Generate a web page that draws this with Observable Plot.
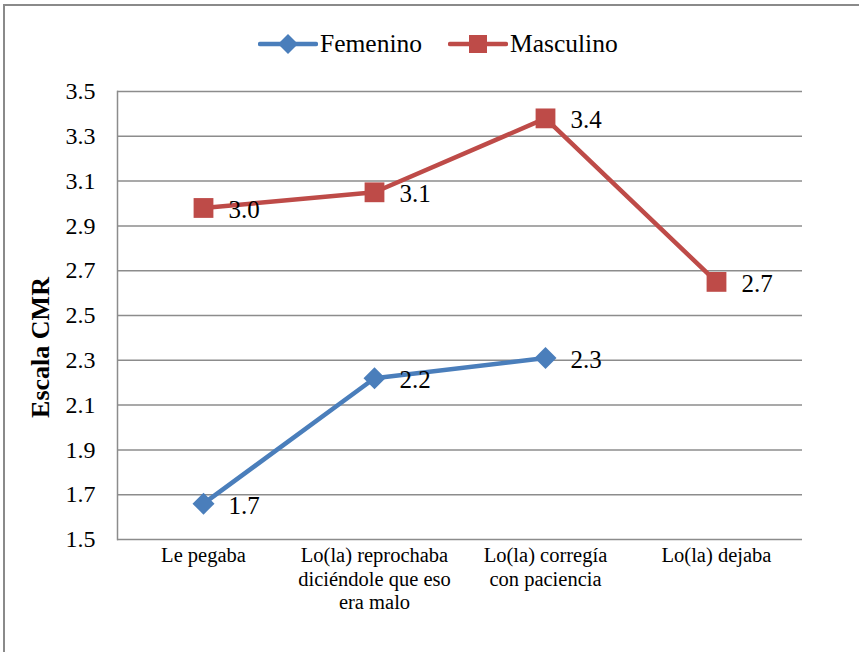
<!DOCTYPE html>
<html><head><meta charset="utf-8">
<script src="https://cdn.jsdelivr.net/npm/d3@7"></script>
<script src="https://cdn.jsdelivr.net/npm/@observablehq/plot@0.6"></script>
<style>
body{margin:0;background:#fff;overflow:hidden}
#wrap{position:relative;width:859px;height:652px;overflow:hidden;font-family:"Liberation Serif","Times New Roman","DejaVu Serif",serif;color:#000}
#border{position:absolute;left:3px;top:4px;width:900px;height:700px;border:2px solid #8a8a8a;pointer-events:none}
#legend{position:relative;height:70px}
.item{position:absolute;top:31px;height:26px;display:flex;align-items:center;font-size:25.5px}
.item svg{display:block;margin-right:2px}
</style></head>
<body>
<div id="wrap">
  <div id="border"></div>
  <div id="legend"></div>
  <div id="chart"></div>
</div>
<script>
const categories = ["Le pegaba", "Lo(la) reprochaba\ndiciéndole que eso\nera malo", "Lo(la) corregía\ncon paciencia", "Lo(la) dejaba"];
const series = ["Femenino", "Masculino"];
const femenino = [1.66, 2.22, 2.31, null];
const masculino = [2.98, 3.05, 3.38, 2.65];
const femeninoLabels = ["1.7", "2.2", "2.3", null];
const masculinoLabels = ["3.0", "3.1", "3.4", "2.7"];
const yTicks = [1.5, 1.7, 1.9, 2.1, 2.3, 2.5, 2.7, 2.9, 3.1, 3.3, 3.5];
const colors = ["#4A7EBB", "#BE4B48"];

const data = [];
categories.forEach((c, i) => {
  data.push({cat: c, serie: "Femenino", v: femenino[i], label: femeninoLabels[i]});
});
categories.forEach((c, i) => {
  data.push({cat: c, serie: "Masculino", v: masculino[i], label: masculinoLabels[i]});
});
const pts = data.filter(d => d.v != null);

const diamond = {draw(ctx, size) { const r = Math.sqrt(size / Math.PI); ctx.moveTo(0, -r); ctx.lineTo(r, 0); ctx.lineTo(0, r); ctx.lineTo(-r, 0); ctx.closePath(); }};
const square = {draw(ctx, size) { const r = Math.sqrt(size / Math.PI) * 0.9; ctx.rect(-r, -r, 2 * r, 2 * r); }};

// legend
const legend = document.getElementById("legend");
const legendPos = [258, 448];
series.forEach((s, i) => {
  const el = document.createElement("div");
  el.className = "item";
  el.style.left = legendPos[i] + "px";
  const shape = i === 0
    ? `<path d="M30,2 L40,12 L30,22 L20,12 Z" fill="${colors[i]}"/>`
    : `<rect x="21" y="3" width="18" height="18" fill="${colors[i]}"/>`;
  el.innerHTML = `<svg width="60" height="24"><line x1="2" x2="58" y1="12" y2="12" stroke="${colors[i]}" stroke-width="4.5" stroke-linecap="round"/>${shape}</svg><span>${s}</span>`;
  legend.appendChild(el);
});

const chart = Plot.plot({
  width: 859,
  height: 582,
  marginTop: 21,
  marginLeft: 117,
  marginRight: 57,
  marginBottom: 113,
  style: {fontFamily: '"Liberation Serif","Times New Roman","DejaVu Serif",serif', background: "transparent", overflow: "visible"},
  x: {type: "point", domain: categories, padding: 0.5, align: 0.5},
  y: {domain: [1.5, 3.5]},
  color: {domain: series, range: colors},
  marks: [
    Plot.ruleY(yTicks, {stroke: "#8c8c8c", strokeWidth: 1.5}),
    Plot.frame({anchor: "left", stroke: "#8c8c8c", strokeWidth: 1.5}),
    Plot.axisY({ticks: yTicks, tickFormat: d => d.toFixed(1), tickSize: 0, tickPadding: 22, fontSize: 24, label: null, fill: "#000"}),
    Plot.axisX({tickSize: 0, tickPadding: 5, fontSize: 20.5, lineHeight: 1.17, label: null, fill: "#000"}),
    Plot.line(data, {x: "cat", y: "v", z: "serie", stroke: "serie", strokeWidth: 4.5}),
    Plot.dot(pts.filter(d => d.serie === "Femenino"), {x: "cat", y: "v", fill: "serie", symbol: diamond, r: 11}),
    Plot.dot(pts.filter(d => d.serie === "Masculino"), {x: "cat", y: "v", fill: "serie", symbol: square, r: 11}),
    Plot.text(pts, {x: "cat", y: "v", text: "label", dx: 25, dy: 2, textAnchor: "start", fontSize: 25, fill: "#000"}),
    Plot.text(["Escala CMR"], {frameAnchor: "left", textAnchor: "middle", rotate: -90, dx: -77, dy: 32, fontWeight: "bold", fontSize: 26, fill: "#000"})
  ]
});
document.getElementById("chart").appendChild(chart);
</script>
</body></html>
